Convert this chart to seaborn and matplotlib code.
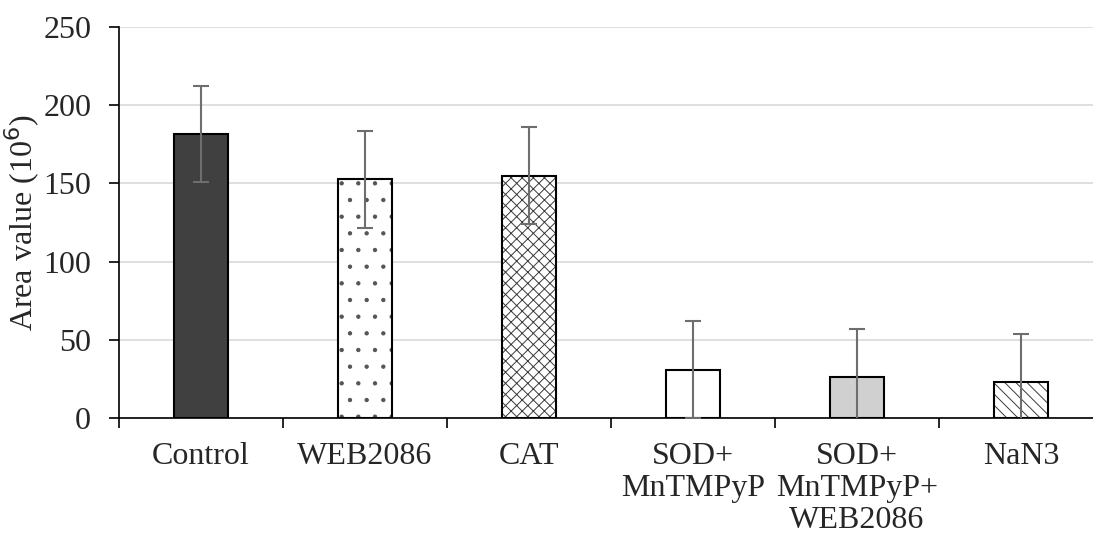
import matplotlib
matplotlib.use("Agg")
import matplotlib.pyplot as plt
import matplotlib.colors as mcolors
import seaborn as sns
import pandas as pd

categories = ["Control", "WEB2086", "CAT", "SOD+\nMnTMPyP", "SOD+\nMnTMPyP+\nWEB2086", "NaN3"]
values = [181.5, 152.5, 155.0, 31.0, 26.0, 23.0]
errors = [30.5, 31.0, 30.8, 30.8, 30.8, 30.8]
y_ticks = [0, 50, 100, 150, 200, 250]

fills = ["#404040", "white", "white", "white", "#d0d0d0", "white"]
hatches = [None, ".", "xxx", None, None, "\\\\\\"]
hatch_colors = [None, "#555555", "#3a3a3a", None, None, "#3a3a3a"]

sns.set_theme(style="white")
plt.rcParams["font.family"] = ["Liberation Serif", "DejaVu Serif"]
plt.rcParams["hatch.linewidth"] = 0.7

fig = plt.figure(figsize=(10.93, 5.43), dpi=100)
ax = fig.add_axes([119 / 1093, 1 - 418 / 543, (1093 - 119) / 1093, (418 - 27) / 543])

df = pd.DataFrame({"cat": categories, "val": values})
sns.barplot(data=df, x="cat", y="val", ax=ax, width=0.335, color="white",
            edgecolor="black", linewidth=1.5, errorbar=None, zorder=3)

for p, fc, h, hc in zip(ax.patches, fills, hatches, hatch_colors):
    p.set_facecolor(fc)
    p.set_edgecolor("black")
    if h:
        p.set_hatch(h)
        p._hatch_color = mcolors.to_rgba(hc)

ax.errorbar(range(len(categories)), values, yerr=errors, fmt="none",
            ecolor="#6e6e6e", elinewidth=1.5, capsize=6, capthick=1.5, zorder=4)

ax.set_ylim(0, 250)
ax.set_yticks(y_ticks)
ax.set_xlim(-0.5, 5.5 - 10 / 164)
ax.yaxis.grid(True, color="#d9d9d9", linewidth=1.2, zorder=0)
ax.set_axisbelow(True)

for s in ["top", "right"]:
    ax.spines[s].set_visible(False)
for s in ["left", "bottom"]:
    ax.spines[s].set_color("black")
    ax.spines[s].set_linewidth(1.2)

ax.set_xticks(range(len(categories)))
ax.set_xticklabels(categories, fontsize=23, linespacing=1.15)
ax.tick_params(axis="x", length=0, pad=17)
ax.set_xticks([i - 0.5 for i in range(len(categories))], minor=True)
ax.tick_params(axis="x", which="minor", length=7, width=1.2, color="black", direction="out", bottom=True)
ax.tick_params(axis="y", length=7, width=1.2, color="black", direction="out", left=True,
               labelsize=23, pad=13)

ax.set_xlabel("")
ax.set_ylabel("Area value (10$^{6}$)", fontsize=23)
ax.yaxis.set_label_coords(-0.079, 0.5)

fig.savefig("out.png", dpi=100)
